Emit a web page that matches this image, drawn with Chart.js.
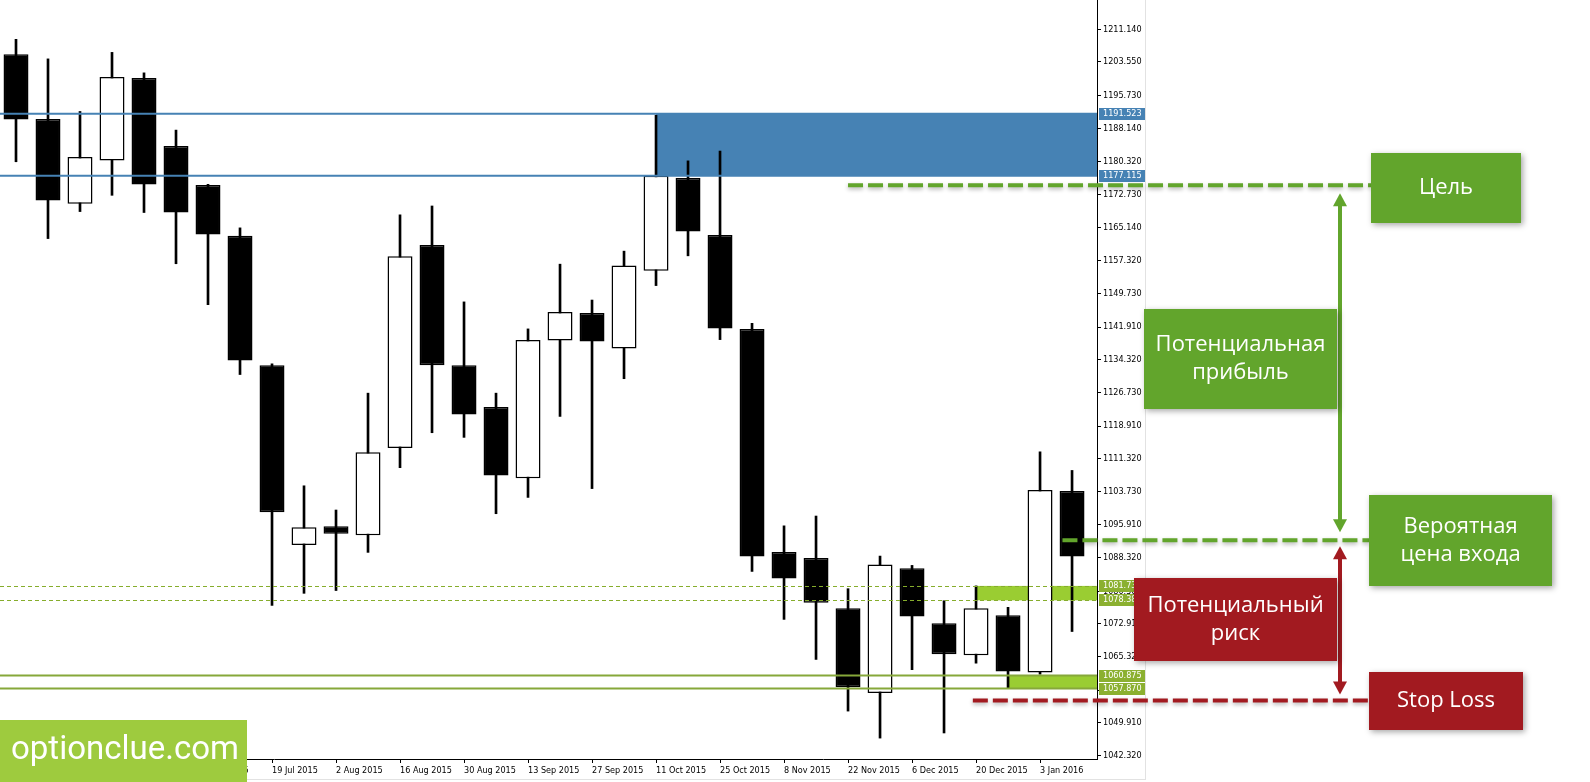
<!DOCTYPE html>
<html>
<head>
<meta charset="utf-8">
<script src="https://cdn.jsdelivr.net/npm/chart.js@4.4.0/dist/chart.umd.min.js"></script>
<style>
html, body { margin: 0; padding: 0; background: #fff; }
#wrap { position: relative; width: 1590px; height: 782px; }
</style>
</head>
<body>
<div id="wrap"><canvas id="c" width="1590" height="782"></canvas></div>
<script>
// weekly candles, 24 May 2015 .. 10 Jan 2016
var weeks = ['24 May 2015','31 May 2015','7 Jun 2015','14 Jun 2015','21 Jun 2015','28 Jun 2015','5 Jul 2015','12 Jul 2015',
  '19 Jul 2015','26 Jul 2015','2 Aug 2015','9 Aug 2015','16 Aug 2015','23 Aug 2015','30 Aug 2015','6 Sep 2015',
  '13 Sep 2015','20 Sep 2015','27 Sep 2015','4 Oct 2015','11 Oct 2015','18 Oct 2015','25 Oct 2015','1 Nov 2015',
  '8 Nov 2015','15 Nov 2015','22 Nov 2015','29 Nov 2015','6 Dec 2015','13 Dec 2015','20 Dec 2015','27 Dec 2015',
  '3 Jan 2016','10 Jan 2016'];
var opens  = [1205.35,1190.31,1170.61,1180.67,1199.83,1184.03,1174.94,1163.14,1133.05,1091.27,1095.60,1093.54,1113.78,1160.97,1133.05,1123.31,
  1106.74,1138.78,1145.17,1136.94,1155.02,1176.56,1163.35,1141.49,1089.64,1088.24,1076.55,1056.85,1085.85,1073.08,1065.61,1074.92,1061.60,1103.82];
var highs  = [1208.82,1204.27,1192.04,1205.78,1201.02,1187.71,1175.10,1164.98,1133.37,1105.01,1099.38,1126.55,1168.01,1170.07,1147.77,1126.55,
  1141.49,1156.54,1148.20,1159.57,1191.17,1180.56,1182.84,1142.79,1095.70,1097.98,1081.09,1088.67,1086.50,1078.28,1081.74,1076.76,1112.91,1108.58];
var lows   = [1180.35,1162.49,1168.77,1172.55,1168.55,1156.64,1147.12,1130.88,1077.20,1080.01,1080.66,1089.53,1109.23,1117.35,1116.27,1098.52,
  1102.31,1121.14,1104.36,1129.91,1151.56,1158.48,1139.00,1085.10,1073.95,1064.64,1052.63,1046.35,1062.26,1047.54,1063.77,1057.87,1061.20,1071.13];
var closes = [1190.20,1171.36,1181.43,1200.05,1175.04,1168.55,1163.46,1134.13,1098.84,1095.38,1093.86,1112.81,1158.38,1133.05,1121.57,1107.39,
  1138.89,1145.39,1138.57,1156.21,1177.12,1164.11,1141.60,1088.56,1083.47,1077.84,1058.15,1086.72,1074.60,1065.83,1076.55,1061.83,1104.04,1088.56];

var priceTicks = [1211.140,1203.550,1195.730,1188.140,1180.320,1172.730,1165.140,1157.320,1149.730,1141.910,1134.320,1126.730,
  1118.910,1111.320,1103.730,1095.910,1088.320,1080.500,1072.910,1065.320,1057.500,1049.910,1042.320];
var dateTicks = [0,2,4,6,8,10,12,14,16,18,20,22,24,26,28,30,32];

// marked levels
var zoneHigh = 1191.523, zoneLow = 1177.115, zoneStart = 20;
var entryHigh = 1081.735, entryLow = 1078.385, entryStart = 30;
var stopHigh = 1060.875, stopLow = 1057.870, stopStart = 31;
var targetLevel = 1174.9, entryLevel = 1092.36, stopLevel = 1055.1;

var axisFont = '"DejaVu Sans Condensed", "DejaVu Sans", "Liberation Sans", sans-serif';
var boxFont = '"Open Sans", "Noto Sans", sans-serif';
var green = '#62a52c', red = '#a21a20';

var bodies = opens.map(function(o, i){ return {x: i, y: [o, closes[i]]}; });
var wicks = lows.map(function(l, i){ return {x: i, y: [l, highs[i]]}; });

function hline(ctx, x1, x2, y, color, w, dash){
  ctx.save();
  ctx.strokeStyle = color; ctx.lineWidth = w;
  ctx.setLineDash(dash || []);
  ctx.beginPath(); ctx.moveTo(x1, y); ctx.lineTo(x2, y); ctx.stroke();
  ctx.restore();
}

function arrow(ctx, x, y1, y2, color){
  ctx.save();
  ctx.strokeStyle = color; ctx.fillStyle = color; ctx.lineWidth = 4;
  ctx.beginPath(); ctx.moveTo(x, y1 + 10); ctx.lineTo(x, y2 - 10); ctx.stroke();
  ctx.beginPath(); ctx.moveTo(x, y1); ctx.lineTo(x - 7, y1 + 13); ctx.lineTo(x + 7, y1 + 13); ctx.closePath(); ctx.fill();
  ctx.beginPath(); ctx.moveTo(x, y2); ctx.lineTo(x - 7, y2 - 13); ctx.lineTo(x + 7, y2 - 13); ctx.closePath(); ctx.fill();
  ctx.restore();
}

function box(ctx, x, y, w, h, color, lines){
  ctx.save();
  ctx.shadowColor = 'rgba(0,0,0,0.35)'; ctx.shadowBlur = 6; ctx.shadowOffsetX = 2; ctx.shadowOffsetY = 2;
  ctx.fillStyle = color; ctx.fillRect(x, y, w, h);
  ctx.restore();
  ctx.save();
  ctx.fillStyle = '#fff'; ctx.font = '22px ' + boxFont;
  ctx.textAlign = 'center'; ctx.textBaseline = 'middle';
  var lh = 28, y0 = y + h / 2 - (lines.length - 1) * lh / 2;
  lines.forEach(function(t, k){ ctx.fillText(t, x + w / 2, y0 + k * lh); });
  ctx.restore();
}

function tag(ctx, y, v, color){
  ctx.save();
  ctx.fillStyle = color; ctx.fillRect(1099, Math.round(y) - 6, 46, 12);
  ctx.fillStyle = '#fff'; ctx.font = '9px ' + axisFont;
  ctx.textAlign = 'left'; ctx.textBaseline = 'middle';
  ctx.fillText(v.toFixed(3), 1103, Math.round(y));
  ctx.restore();
}

var overlay = {
  id: 'overlay',
  beforeDatasetsDraw: function(chart){
    var ctx = chart.ctx, xs = chart.scales.x, ys = chart.scales.y, a = chart.chartArea;
    ctx.save();
    ctx.fillStyle = '#4682b4';
    ctx.fillRect(xs.getPixelForValue(zoneStart), ys.getPixelForValue(zoneHigh), a.right - xs.getPixelForValue(zoneStart),
      ys.getPixelForValue(zoneLow) - ys.getPixelForValue(zoneHigh));
    ctx.fillStyle = '#9acd32';
    ctx.fillRect(xs.getPixelForValue(entryStart), ys.getPixelForValue(entryHigh), a.right - xs.getPixelForValue(entryStart),
      ys.getPixelForValue(entryLow) - ys.getPixelForValue(entryHigh));
    ctx.fillRect(xs.getPixelForValue(stopStart), ys.getPixelForValue(stopHigh), a.right - xs.getPixelForValue(stopStart),
      ys.getPixelForValue(stopLow) - ys.getPixelForValue(stopHigh));
    ctx.restore();
  },
  afterDatasetsDraw: function(chart){
    var ctx = chart.ctx, ys = chart.scales.y, a = chart.chartArea;
    hline(ctx, a.left, a.right, ys.getPixelForValue(zoneHigh), '#4682b4', 2);
    hline(ctx, a.left, a.right, ys.getPixelForValue(zoneLow), '#4682b4', 2);
    hline(ctx, a.left, a.right, Math.round(ys.getPixelForValue(entryHigh)) + 0.5, '#86ad2c', 1, [4, 3]);
    hline(ctx, a.left, a.right, Math.round(ys.getPixelForValue(entryLow)) + 0.5, '#86ad2c', 1, [4, 3]);
    hline(ctx, a.left, a.right, ys.getPixelForValue(stopHigh), '#86a83a', 2);
    hline(ctx, a.left, a.right, ys.getPixelForValue(stopLow), '#86a83a', 2);
  },
  afterDraw: function(chart){
    var ctx = chart.ctx, xs = chart.scales.x, ys = chart.scales.y;
    tag(ctx, ys.getPixelForValue(zoneHigh), zoneHigh, '#4682b4');
    tag(ctx, ys.getPixelForValue(zoneLow), zoneLow, '#4682b4');
    tag(ctx, ys.getPixelForValue(entryHigh), entryHigh, '#8bb030');
    tag(ctx, ys.getPixelForValue(entryLow), entryLow, '#8bb030');
    tag(ctx, ys.getPixelForValue(stopHigh), stopHigh, '#8bb030');
    tag(ctx, ys.getPixelForValue(stopLow), stopLow, '#8bb030');

    // window borders
    hline(ctx, 0, 1146, 779.5, '#e2e2e2', 1);
    ctx.save(); ctx.strokeStyle = '#e2e2e2'; ctx.lineWidth = 1;
    ctx.beginPath(); ctx.moveTo(1145.5, 0); ctx.lineTo(1145.5, 780); ctx.stroke(); ctx.restore();

    var yT = ys.getPixelForValue(targetLevel), yE = ys.getPixelForValue(entryLevel), yS = ys.getPixelForValue(stopLevel);
    ctx.save();
    ctx.shadowColor = 'rgba(0,0,0,0.3)'; ctx.shadowBlur = 4; ctx.shadowOffsetY = 2;
    hline(ctx, xs.getPixelForValue(26), 1371, yT, green, 4, [15, 5]);
    hline(ctx, xs.getPixelForValue(32.7), 1369, yE, green, 4, [15, 5]);
    hline(ctx, xs.getPixelForValue(29.9), 1369, yS, red, 4, [15, 5]);
    ctx.restore();

    arrow(ctx, 1340, yT + 8, yE - 8, green);
    arrow(ctx, 1340, yE + 6, yS - 6, red);

    box(ctx, 1371, 153, 150, 70, green, ['Цель']);
    box(ctx, 1144, 309, 193, 100, green, ['Потенциальная', 'прибыль']);
    box(ctx, 1369, 495, 183, 91, green, ['Вероятная', 'цена входа']);
    box(ctx, 1134, 578, 203, 83, red, ['Потенциальный', 'риск']);
    box(ctx, 1369, 672, 154, 58, red, ['Stop Loss']);

    // logo
    ctx.save();
    ctx.fillStyle = '#9ecb3e'; ctx.fillRect(0, 720, 247, 62);
    ctx.fillStyle = '#fff'; ctx.font = '33px Roboto, "Open Sans", sans-serif';
    ctx.textAlign = 'left'; ctx.textBaseline = 'middle';
    ctx.fillText('optionclue.com', 11, 751);
    ctx.restore();
  }
};

new Chart(document.getElementById('c'), {
  type: 'bar',
  data: {
    datasets: [{
      label: 'body',
      data: bodies,
      order: 0,
      grouped: false,
      backgroundColor: opens.map(function(o, i){ return closes[i] >= o ? '#ffffff' : '#000000'; }),
      borderColor: '#000',
      borderWidth: 1.5,
      borderSkipped: false,
      barPercentage: 0.78,
      categoryPercentage: 1
    }, {
      label: 'wick',
      data: wicks,
      order: 1,
      grouped: false,
      backgroundColor: '#000',
      barThickness: 2
    }]
  },
  options: {
    responsive: false,
    animation: false,
    devicePixelRatio: 1,
    layout: { padding: { left: 0, top: 0, right: 445, bottom: 0 } },
    plugins: { legend: { display: false }, tooltip: { enabled: false } },
    scales: {
      x: {
        type: 'linear',
        min: -0.5,
        max: 33.78,
        offset: false,
        afterBuildTicks: function(s){ s.ticks = dateTicks.map(function(v){ return {value: v}; }); },
        afterFit: function(s){ s.height = 23; s.paddingLeft = 0; s.paddingRight = 0; },
        grid: { drawOnChartArea: false, offset: false, tickLength: 4, tickColor: '#000' },
        border: { display: true, color: '#000', width: 1 },
        ticks: {
          autoSkip: false, maxRotation: 0, align: 'start', padding: 2, color: '#000',
          font: { family: axisFont, size: 9 },
          callback: function(v){ return weeks[v]; }
        }
      },
      y: {
        position: 'right',
        min: 1041.49,
        max: 1217.96,
        afterBuildTicks: function(s){ s.ticks = priceTicks.map(function(v){ return {value: v}; }); },
        afterFit: function(s){ s.width = 48; s.paddingTop = 0; s.paddingBottom = 0; },
        grid: { drawOnChartArea: false, tickLength: 4, tickColor: '#000' },
        border: { display: true, color: '#000', width: 1 },
        ticks: {
          padding: 2, color: '#000',
          font: { family: axisFont, size: 9 },
          callback: function(v){ return v.toFixed(3); }
        }
      }
    }
  },
  plugins: [overlay]
});
</script>
</body>
</html>
